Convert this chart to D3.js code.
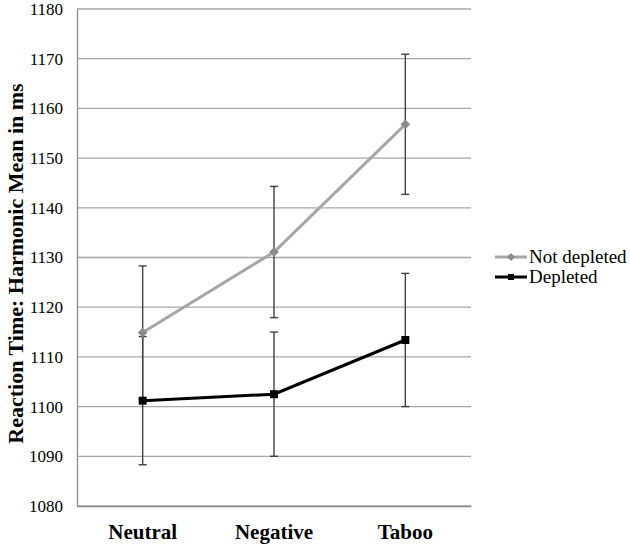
<!DOCTYPE html>
<html>
<head>
<meta charset="utf-8">
<script src="https://cdn.jsdelivr.net/npm/d3@7"></script>
<style>
  body { margin: 0; background: #fff; }
  svg text { font-family: "Times New Roman", "Liberation Serif", Tinos, serif; fill: #000; }
</style>
</head>
<body>
<div id="chart"></div>
<script>
// chart data
var categories = ["Neutral", "Negative", "Taboo"];
var notDepleted = [1114.9, 1131.1, 1156.8];
var notDepletedErr = [13.4, 13.2, 14.1];
var depleted = [1101.2, 1102.5, 1113.4];
var depletedErr = [12.9, 12.5, 13.4];
var yTicks = [1080, 1090, 1100, 1110, 1120, 1130, 1140, 1150, 1160, 1170, 1180];

var serif = "'Times New Roman', 'Liberation Serif', Tinos, serif";

var svgWidth = 630;
var svgHeight = 546;

var margin = { top: 9, right: 159, bottom: 40, left: 77 };
var width = svgWidth - margin.left - margin.right;
var height = svgHeight - margin.top - margin.bottom;

var svg = d3.select("#chart")
    .append("svg")
    .attr("width", svgWidth)
    .attr("height", svgHeight)
    .style("font-family", serif);

var chartGroup = svg.append("g")
    .attr("transform", `translate(${margin.left}, ${margin.top})`);

var xScale = d3.scaleBand()
    .domain(categories)
    .range([0, width]);

var yScale = d3.scaleLinear()
    .domain([1080, 1180])
    .range([height, 0]);

// gridlines
chartGroup.selectAll("line.grid")
    .data(yTicks)
    .enter()
    .append("line")
    .attr("class", "grid")
    .attr("x1", 0)
    .attr("x2", width)
    .attr("y1", d => yScale(d))
    .attr("y2", d => yScale(d))
    .attr("stroke", "#a6a6a6")
    .attr("stroke-width", 1.3);

// y axis labels
var leftAxis = d3.axisLeft(yScale)
    .tickValues(yTicks)
    .tickFormat(d3.format("d"))
    .tickSize(0)
    .tickPadding(14);
var yAxis = chartGroup.append("g").call(leftAxis).attr("font-family", serif);
yAxis.select(".domain").attr("stroke", "#8c8c8c").attr("stroke-width", 1.3);
yAxis.selectAll("text")
    .style("font-family", serif)
    .style("font-size", "17px")
    .attr("fill", "#000");

// x axis
var bottomAxis = d3.axisBottom(xScale).tickSize(0).tickPadding(18);
var xAxis = chartGroup.append("g")
    .attr("transform", `translate(0, ${height})`)
    .call(bottomAxis)
    .attr("font-family", serif);
xAxis.select(".domain").attr("stroke", "#8c8c8c").attr("stroke-width", 1.3);
xAxis.selectAll("text")
    .style("font-family", serif)
    .style("font-size", "21px")
    .style("font-weight", "bold")
    .attr("fill", "#000");

var xPos = d => xScale(d) + xScale.bandwidth() / 2;

// error bars
function drawErrors(values, errs) {
    var g = chartGroup.append("g");
    values.forEach(function(v, i) {
        var x = xPos(categories[i]);
        var y1 = yScale(v + errs[i]);
        var y2 = yScale(v - errs[i]);
        g.append("line").attr("x1", x).attr("x2", x).attr("y1", y1).attr("y2", y2);
        g.append("line").attr("x1", x - 4).attr("x2", x + 4).attr("y1", y1).attr("y2", y1);
        g.append("line").attr("x1", x - 4).attr("x2", x + 4).attr("y1", y2).attr("y2", y2);
    });
    g.selectAll("line").attr("stroke", "#404040").attr("stroke-width", 1.4);
}
drawErrors(notDepleted, notDepletedErr);
drawErrors(depleted, depletedErr);

var line = d3.line()
    .x((d, i) => xPos(categories[i]))
    .y(d => yScale(d));

// not depleted series
chartGroup.append("path")
    .datum(notDepleted)
    .attr("d", line)
    .attr("fill", "none")
    .attr("stroke", "#a6a6a6")
    .attr("stroke-width", 3);

var diamond = d3.symbol().type(d3.symbolDiamond2).size(60);
chartGroup.selectAll("path.nd")
    .data(notDepleted)
    .enter()
    .append("path")
    .attr("class", "nd")
    .attr("d", diamond)
    .attr("transform", (d, i) => `translate(${xPos(categories[i])}, ${yScale(d)})`)
    .attr("fill", "#8c8c8c");

// depleted series
chartGroup.append("path")
    .datum(depleted)
    .attr("d", line)
    .attr("fill", "none")
    .attr("stroke", "#000")
    .attr("stroke-width", 3);

chartGroup.selectAll("rect.dep")
    .data(depleted)
    .enter()
    .append("rect")
    .attr("class", "dep")
    .attr("x", (d, i) => xPos(categories[i]) - 4)
    .attr("y", d => yScale(d) - 4)
    .attr("width", 8)
    .attr("height", 8)
    .attr("fill", "#000");

// y axis title
svg.append("text")
    .attr("transform", `translate(23, ${margin.top + height / 2 + 6}) rotate(-90)`)
    .attr("text-anchor", "middle")
    .style("font-family", serif)
    .style("font-size", "22px")
    .style("font-weight", "bold")
    .text("Reaction Time: Harmonic Mean in ms");

// legend
var legend = svg.append("g").attr("transform", "translate(495, 257)");

legend.append("line")
    .attr("x1", 0).attr("x2", 32).attr("y1", 0).attr("y2", 0)
    .attr("stroke", "#a6a6a6").attr("stroke-width", 3);
legend.append("path")
    .attr("d", d3.symbol().type(d3.symbolDiamond2).size(40))
    .attr("transform", "translate(16, 0)")
    .attr("fill", "#8c8c8c");
legend.append("text")
    .attr("x", 34).attr("y", 6)
    .style("font-family", serif)
    .style("font-size", "19px")
    .text("Not depleted");

legend.append("line")
    .attr("x1", 0).attr("x2", 32).attr("y1", 20).attr("y2", 20)
    .attr("stroke", "#000").attr("stroke-width", 3);
legend.append("rect")
    .attr("x", 13).attr("y", 17).attr("width", 6).attr("height", 6)
    .attr("fill", "#000");
legend.append("text")
    .attr("x", 34).attr("y", 26)
    .style("font-family", serif)
    .style("font-size", "19px")
    .text("Depleted");
</script>
</body>
</html>
